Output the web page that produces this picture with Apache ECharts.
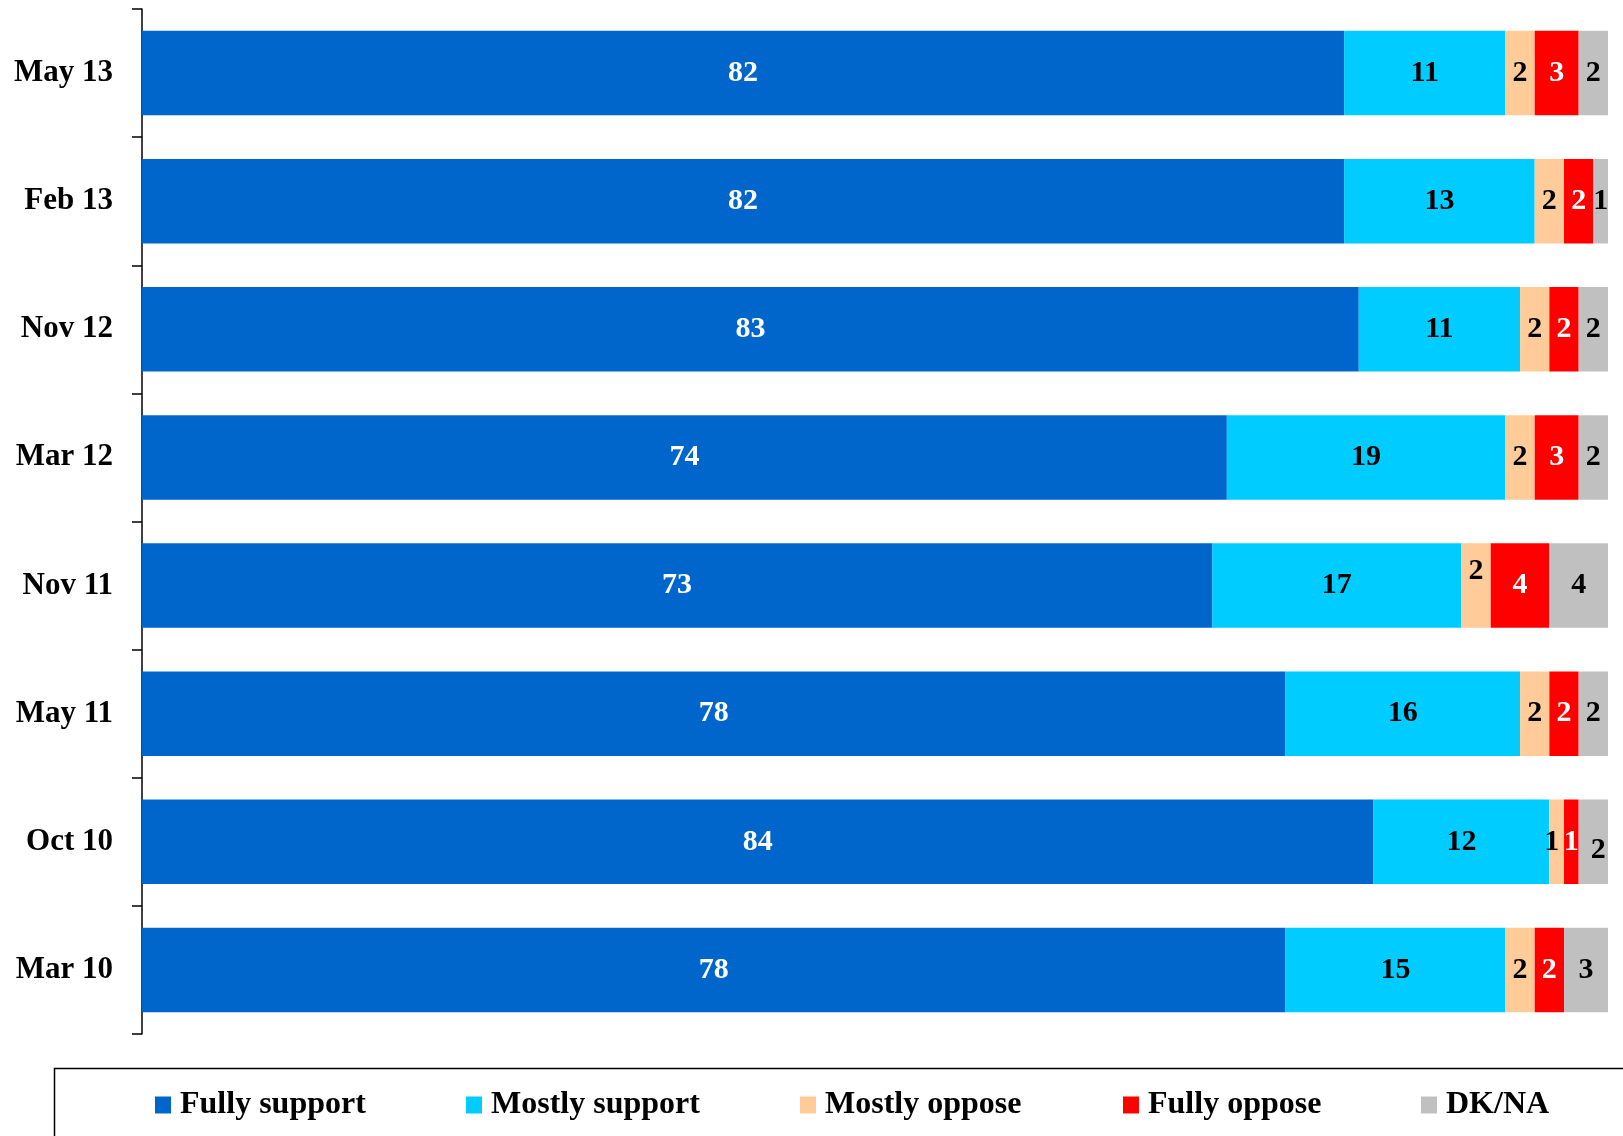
<!DOCTYPE html>
<html>
<head>
<meta charset="utf-8">
<script src="https://cdn.jsdelivr.net/npm/echarts@6/dist/echarts.min.js"></script>
<style>
html,body{margin:0;padding:0;background:#fff;}
#chart{width:1623px;height:1136px;}
</style>
</head>
<body>
<div id="chart"></div>
<script>
const categories = ['May 13','Feb 13','Nov 12','Mar 12','Nov 11','May 11','Oct 10','Mar 10'];
const fullySupport  = [82, 82, 83, 74, 73, 78, 84, 78];
const mostlySupport = [11, 13, 11, 19, 17, 16, 12, 15];
const mostlyOppose  = [2, 2, 2, 2, 2, 2, 1, 2];
const fullyOppose   = [3, 2, 2, 3, 4, 2, 1, 2];
const dkna          = [2, 1, 2, 2, 4, 2, 2, 3];

const FONT = 'Liberation Serif, Times New Roman, serif';
const seriesDefs = [
  {name:'Fully support', data: fullySupport, color:'#0066CC', text:'#ffffff'},
  {name:'Mostly support', data: mostlySupport, color:'#00CCFF', text:'#000000'},
  {name:'Mostly oppose', data: mostlyOppose, color:'#FFCC99', text:'#000000'},
  {name:'Fully oppose', data: fullyOppose, color:'#FF0000', text:'#ffffff'},
  {name:'DK/NA', data: dkna, color:'#C0C0C0', text:'#000000'}
];
// per-label nudges mimicking the original label placement
const nudges = {
  'Mostly oppose|Nov 11': [0, -14],
  'Mostly oppose|Oct 10': [-5, 0],
  'DK/NA|Oct 10': [5, 8]
};
// left position of each legend entry (px)
const legendLeft = [155, 466, 800, 1123, 1421];

const series = seriesDefs.map(s => ({
  name: s.name,
  type: 'bar',
  stack: 'all',
  barCategoryGap: '34%',
  itemStyle: {color: s.color},
  label: {
    show: true, position: 'inside', color: s.text,
    fontFamily: FONT, fontWeight: 'bold', fontSize: 30
  },
  emphasis: {disabled: true},
  data: s.data.map((v, i) => {
    const key = s.name + '|' + categories[i];
    if (nudges[key]) return {value: v, label: {offset: nudges[key]}};
    return v;
  })
}));

const legends = seriesDefs.map((s, i) => ({
  left: legendLeft[i], top: 1089, padding: 0, itemWidth: 16, itemHeight: 17,
  icon: 'rect',
  textStyle: {color: '#000000', fontFamily: FONT, fontWeight: 'bold', fontSize: 32, padding: [0,0,0,4]},
  data: [s.name]
}));

const chart = echarts.init(document.getElementById('chart'), null, {renderer: 'canvas'});
chart.setOption({
  animation: false,
  backgroundColor: '#ffffff',
  grid: {left: 142, right: 15, top: 9, bottom: 102, containLabel: false},
  xAxis: {type: 'value', min: 0, max: 100, show: false},
  yAxis: {
    type: 'category', data: categories, inverse: true,
    axisLine: {show: true, lineStyle: {color: '#000000', width: 1.5}},
    axisTick: {show: true, length: 10, lineStyle: {color: '#000000', width: 1.5}},
    axisLabel: {margin: 29, color: '#000000', fontFamily: FONT, fontWeight: 'bold', fontSize: 31}
  },
  legend: legends,
  graphic: [{
    type: 'rect', left: 52, top: 1066,
    shape: {width: 1620, height: 120},
    style: {fill: 'none', stroke: '#000000', lineWidth: 1.5},
    silent: true
  }],
  series: series
});
</script>
</body>
</html>
